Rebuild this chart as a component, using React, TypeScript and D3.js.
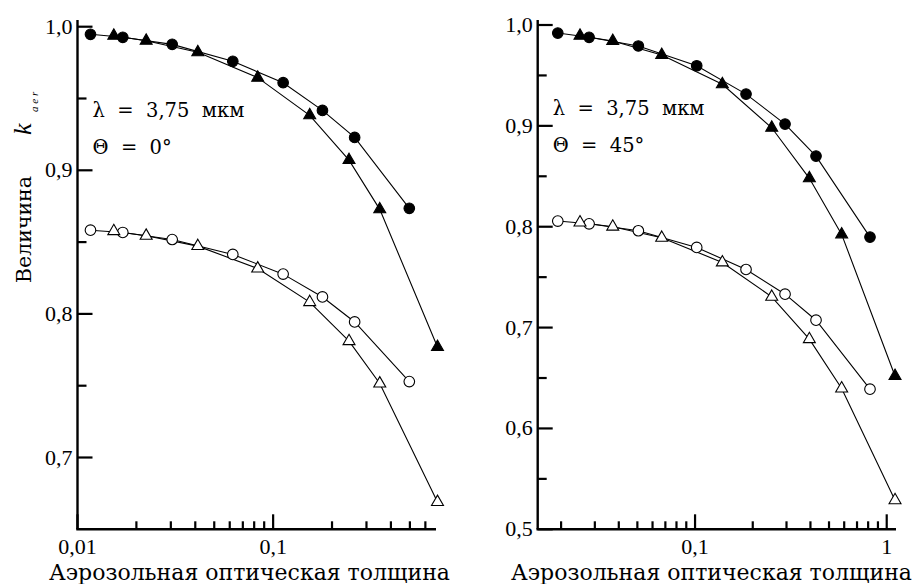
import React from "react";
import * as d3 from "d3";

// ---- data: left panel (Θ = 0°)
const L_circX = [0.01165, 0.01704, 0.03048, 0.0622, 0.1125, 0.1787, 0.261, 0.4966];
const L_fillCircY = [0.9947, 0.9926, 0.9877, 0.9759, 0.961, 0.9417, 0.9229, 0.8735];
const L_openCircY = [0.8583, 0.8567, 0.8518, 0.8414, 0.8277, 0.8118, 0.7944, 0.7529];
const L_triX = [0.01533, 0.02244, 0.0412, 0.0834, 0.1538, 0.2443, 0.3508, 0.692];
const L_fillTriY = [0.9937, 0.9902, 0.9822, 0.9645, 0.9383, 0.9071, 0.8728, 0.777];
const L_openTriY = [0.8576, 0.8544, 0.8472, 0.8316, 0.8082, 0.781, 0.7515, 0.669];

// ---- data: right panel (Θ = 45°)
const R_circX = [0.01922, 0.028, 0.0506, 0.102, 0.1845, 0.2948, 0.4277, 0.818];
const R_fillCircY = [0.992, 0.9878, 0.9792, 0.9596, 0.9315, 0.9018, 0.87, 0.7897];
const R_openCircY = [0.8056, 0.8029, 0.796, 0.7795, 0.7576, 0.7331, 0.7073, 0.6389];
const R_triX = [0.0251, 0.0372, 0.067, 0.1388, 0.2512, 0.3948, 0.582, 1.105];
const R_fillTriY = [0.9894, 0.9841, 0.9702, 0.9412, 0.8981, 0.848, 0.7924, 0.652];
const R_openTriY = [0.8042, 0.8, 0.789, 0.7646, 0.7305, 0.6885, 0.6396, 0.5288];

// ---- ticks
const L_yMajor = [0.7, 0.8, 0.9, 1.0];
const L_yMinor = [0.75, 0.85, 0.95];
const L_yLabels = ["0,7", "0,8", "0,9", "1,0"];
const R_yMajor = [0.5, 0.6, 0.7, 0.8, 0.9, 1.0];
const R_yMinor = [0.55, 0.65, 0.75, 0.85, 0.95];
const R_yLabels = ["0,5", "0,6", "0,7", "0,8", "0,9", "1,0"];
const L_xMajor = [0.01, 0.1];
const L_xLabels = ["0,01", "0,1"];
const L_xMinor = [0.02, 0.03, 0.04, 0.05, 0.06, 0.07, 0.08, 0.09, 0.2, 0.3, 0.4, 0.5, 0.6];
const R_xMajor = [0.1, 1];
const R_xLabels = ["0,1", "1"];
const R_xMinor = [0.02, 0.03, 0.04, 0.05, 0.06, 0.07, 0.08, 0.09, 0.2, 0.3, 0.4, 0.5, 0.6, 0.7, 0.8, 0.9];

const xTitle = "Аэрозольная оптическая толщина";
const lambdaText = "λ \u00a0= \u00a03,75 \u00a0мкм";
const yTitle = "Величина";

const TICKFONT = "Liberation Serif";
const TEXTFONT = "DejaVu Serif";

type PanelProps = {
  x: d3.ScaleLogarithmic<number, number>;
  y: d3.ScaleLinear<number, number>;
  circX: number[];
  fillCircY: number[];
  openCircY: number[];
  triX: number[];
  fillTriY: number[];
  openTriY: number[];
  yMajor: number[];
  yMinor: number[];
  yLabels: string[];
  xMajor: number[];
  xLabels: string[];
  xMinor: number[];
  theta: string;
  titleCx: number;
  axisTopVal: number;
};

function Panel(p: PanelProps) {
  const { x, y } = p;
  const [x0, x1] = x.range();
  const [yb, yt] = y.range();
  const axisTop = y(p.axisTopVal);
  const line = d3
    .line<[number, number]>()
    .x((d) => x(d[0]))
    .y((d) => y(d[1]));
  const tri = d3.symbol().type(d3.symbolTriangle).size(62)() || "";
  const series = [
    { xs: p.circX, ys: p.fillCircY, shape: "c", fill: "#000" },
    { xs: p.triX, ys: p.fillTriY, shape: "t", fill: "#000" },
    { xs: p.circX, ys: p.openCircY, shape: "c", fill: "#fff" },
    { xs: p.triX, ys: p.openTriY, shape: "t", fill: "#fff" },
  ];
  return (
    <g>
      {series.map((s, i) => (
        <path
          key={"l" + i}
          d={line(s.xs.map((v, j) => [v, s.ys[j]] as [number, number])) || ""}
          fill="none"
          stroke="#000"
          strokeWidth={1.1}
        />
      ))}
      {series.map((s, i) =>
        s.xs.map((v, j) =>
          s.shape === "c" ? (
            <circle
              key={`m${i}-${j}`}
              cx={x(v)}
              cy={y(s.ys[j])}
              r={5.3}
              fill={s.fill}
              stroke="#000"
              strokeWidth={1.1}
            />
          ) : (
            <path
              key={`m${i}-${j}`}
              d={tri}
              transform={`translate(${x(v)},${y(s.ys[j])})`}
              fill={s.fill}
              stroke="#000"
              strokeWidth={1.1}
            />
          )
        )
      )}
      {/* axes */}
      <line x1={x0} x2={x0} y1={axisTop} y2={yb} stroke="#000" strokeWidth={2.4} />
      <line x1={x0 - 1.2} x2={x1} y1={yb} y2={yb} stroke="#000" strokeWidth={2.4} />
      {p.yMajor.map((v, i) => (
        <line key={"ymt" + i} x1={x0} x2={x0 + 15} y1={y(v)} y2={y(v)} stroke="#000" strokeWidth={2.2} />
      ))}
      {p.yMinor.map((v, i) => (
        <line key={"ynt" + i} x1={x0} x2={x0 + 9} y1={y(v)} y2={y(v)} stroke="#000" strokeWidth={2.2} />
      ))}
      {p.xMajor.map((v, i) => (
        <line key={"xmt" + i} x1={x(v)} x2={x(v)} y1={yb} y2={yb - 15} stroke="#000" strokeWidth={2.2} />
      ))}
      {p.xMinor.map((v, i) => (
        <line key={"xnt" + i} x1={x(v)} x2={x(v)} y1={yb} y2={yb - 8} stroke="#000" strokeWidth={2.2} />
      ))}
      {p.yMajor.map((v, i) => (
        <text key={"yl" + i} x={x0 - 5} y={y(v) + 7} textAnchor="end" fontFamily={TICKFONT} fontSize={22}>
          {p.yLabels[i]}
        </text>
      ))}
      {p.xMajor.map((v, i) => (
        <text key={"xl" + i} x={x(v)} y={yb + 25} textAnchor="middle" fontFamily={TICKFONT} fontSize={22}>
          {p.xLabels[i]}
        </text>
      ))}
      <text x={x0 + 15} y={yt + 90} fontFamily={TEXTFONT} fontSize={19.5}>
        {lambdaText}
      </text>
      <text x={x0 + 15} y={yt + 127} fontFamily={TEXTFONT} fontSize={19.5}>
        {"Θ \u00a0= \u00a0" + p.theta + "°"}
      </text>
      <text x={p.titleCx} y={yb + 51} textAnchor="middle" fontFamily={TEXTFONT} fontSize={22}>
        {xTitle}
      </text>
    </g>
  );
}

export default function App() {
  const xL = d3.scaleLog().domain([0.01, 0.68]).range([77.5, 436]);
  const yL = d3.scaleLinear().domain([0.65, 1.0]).range([529.3, 26.7]);
  const xR = d3.scaleLog().domain([0.0151, 1.118]).range([537.7, 896]);
  const yR = d3.scaleLinear().domain([0.5, 1.0]).range([529.3, 25]);
  return (
    <svg width={915} height={584} style={{ position: "absolute", left: 0, top: 0, background: "#fff" }}>
      <rect width={915} height={584} fill="#fff" />
      <Panel
        x={xL}
        y={yL}
        circX={L_circX}
        fillCircY={L_fillCircY}
        openCircY={L_openCircY}
        triX={L_triX}
        fillTriY={L_fillTriY}
        openTriY={L_openTriY}
        yMajor={L_yMajor}
        yMinor={L_yMinor}
        yLabels={L_yLabels}
        xMajor={L_xMajor}
        xLabels={L_xLabels}
        xMinor={L_xMinor}
        theta="0"
        titleCx={249.5}
        axisTopVal={1.0047}
      />
      <Panel
        x={xR}
        y={yR}
        circX={R_circX}
        fillCircY={R_fillCircY}
        openCircY={R_openCircY}
        triX={R_triX}
        fillTriY={R_fillTriY}
        openTriY={R_openTriY}
        yMajor={R_yMajor}
        yMinor={R_yMinor}
        yLabels={R_yLabels}
        xMajor={R_xMajor}
        xLabels={R_xLabels}
        xMinor={R_xMinor}
        theta="45"
        titleCx={711.5}
        axisTopVal={1.005}
      />
      {/* y-axis label of left panel */}
      <text x={31} y={283} transform="rotate(-90 31 283)" fontFamily={TEXTFONT} fontSize={20.5}>
        {yTitle}
      </text>
      <text x={31} y={283 - 148} transform="rotate(-90 31 135)" fontFamily={TICKFONT} fontSize={26} fontStyle="italic">
        k
      </text>
      <text x={38} y={283 - 171} transform="rotate(-90 38 112)" fontFamily={TICKFONT} fontSize={11} fontStyle="italic">
        a e r
      </text>
    </svg>
  );
}
